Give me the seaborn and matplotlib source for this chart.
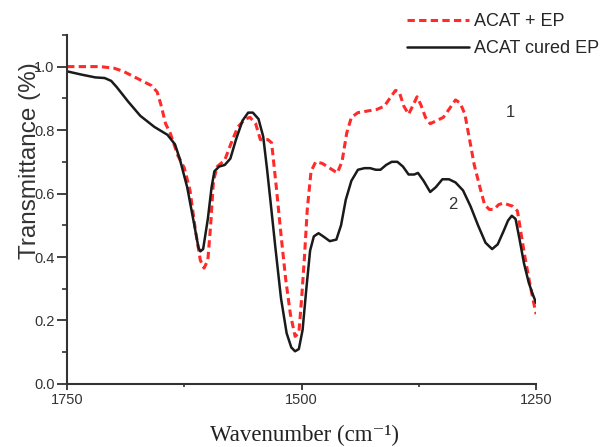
import matplotlib
matplotlib.use("Agg")
import matplotlib.pyplot as plt
import seaborn as sns
from matplotlib.ticker import MultipleLocator, FixedLocator

# ---- data ----
black_x = [1750, 1735, 1720, 1710, 1703, 1697, 1685, 1672, 1657, 1643, 1635, 1630, 1622, 1615, 1610,
           1608, 1605, 1600, 1596, 1593, 1588, 1582, 1576, 1570, 1563, 1557, 1552, 1546, 1541,
           1537, 1533, 1528, 1522, 1516, 1511, 1507, 1503, 1499, 1495, 1491, 1487, 1482, 1477,
           1470, 1463, 1458, 1453, 1447, 1440, 1433, 1427, 1421, 1416, 1410, 1404, 1398, 1392,
           1386, 1380, 1376, 1370, 1363, 1357, 1350, 1343, 1336, 1328, 1320, 1312, 1304, 1297,
           1291, 1285, 1280, 1276, 1272, 1268, 1263, 1258, 1254, 1250]
black_y = [0.985, 0.975, 0.966, 0.964, 0.955, 0.935, 0.89, 0.845, 0.81, 0.785, 0.755, 0.71, 0.62, 0.51, 0.43,
           0.418, 0.425, 0.52, 0.62, 0.67, 0.685, 0.69, 0.71, 0.77, 0.83, 0.855, 0.855, 0.835, 0.78,
           0.68, 0.57, 0.43, 0.27, 0.16, 0.115, 0.103, 0.11, 0.17, 0.30, 0.42, 0.465, 0.475, 0.465,
           0.45, 0.455, 0.50, 0.58, 0.64, 0.675, 0.68, 0.68, 0.675, 0.675, 0.69, 0.70, 0.70, 0.685,
           0.66, 0.66, 0.665, 0.64, 0.605, 0.62, 0.645, 0.645, 0.635, 0.61, 0.56, 0.50, 0.445, 0.425,
           0.44, 0.48, 0.515, 0.53, 0.52, 0.46, 0.38, 0.32, 0.285, 0.255]

red_x = [1750, 1735, 1715, 1700, 1690, 1680, 1670, 1660, 1654, 1650, 1645, 1640, 1632, 1625,
         1619, 1613, 1608, 1604, 1600, 1597, 1594, 1590, 1582, 1575, 1568, 1560, 1555, 1549,
         1544, 1536, 1532, 1527, 1522, 1517, 1512, 1507, 1503, 1500, 1497, 1494, 1490, 1485,
         1478, 1470, 1462, 1457, 1452, 1447, 1440, 1430, 1420, 1412, 1406, 1400, 1396, 1391,
         1386, 1381, 1377, 1373, 1368, 1363, 1356, 1349, 1343, 1336, 1331, 1326, 1321, 1316,
         1310, 1305, 1300, 1295, 1290, 1285, 1280, 1275, 1270, 1267, 1262, 1257, 1253, 1250]
red_y = [1.0, 1.0, 1.0, 0.995, 0.985, 0.97, 0.955, 0.94, 0.92, 0.88, 0.82, 0.79, 0.72, 0.68,
         0.61, 0.48, 0.39, 0.365, 0.39, 0.50, 0.64, 0.685, 0.705, 0.76, 0.81, 0.835, 0.84, 0.82,
         0.77, 0.77, 0.76, 0.62, 0.47, 0.33, 0.22, 0.15, 0.16, 0.27, 0.40, 0.55, 0.67, 0.70,
         0.695, 0.68, 0.665, 0.70, 0.79, 0.84, 0.855, 0.86, 0.865, 0.875, 0.90, 0.925, 0.92, 0.875,
         0.85, 0.88, 0.905, 0.88, 0.84, 0.82, 0.83, 0.84, 0.865, 0.895, 0.885, 0.85, 0.77, 0.69,
         0.62, 0.565, 0.55, 0.55, 0.565, 0.57, 0.565, 0.56, 0.545, 0.49, 0.40, 0.32, 0.26, 0.22]

series_labels = ["ACAT + EP", "ACAT cured EP"]
curve_tags = ["1", "2"]
xticks = [1750, 1500, 1250]
yticks = [0.0, 0.2, 0.4, 0.6, 0.8, 1.0]

sns.set_style("ticks")
plt.rcParams["font.family"] = ["Liberation Sans", "DejaVu Sans"]

fig = plt.figure(figsize=(6.1, 4.47), dpi=100)
ax = fig.add_axes([0.110, 0.141, 0.769, 0.781])

sns.lineplot(x=red_x, y=red_y, ax=ax, sort=False, estimator=None, color="#ff2a2a",
             linewidth=2.2, label=series_labels[0])
sns.lineplot(x=black_x, y=black_y, ax=ax, sort=False, estimator=None, color="#1a1a1a",
             linewidth=1.8, label=series_labels[1])
ax.lines[0].set_linestyle((0, (2.4, 1.4)))

ax.set_xlim(1750, 1250)
ax.set_ylim(0, 1.1)
ax.set_xticks(xticks)
ax.set_xticklabels([str(v) for v in xticks])
ax.xaxis.set_minor_locator(FixedLocator([1625, 1375]))
ax.set_yticks(yticks)
ax.set_yticklabels([f"{v:.1f}" for v in yticks])
ax.yaxis.set_minor_locator(MultipleLocator(0.1))
ax.tick_params(axis="both", which="major", direction="out", width=1.3,
               labelsize=10.5, color="#333333", labelcolor="#333333", pad=2)
ax.tick_params(axis="y", which="major", length=7)
ax.tick_params(axis="x", which="major", length=4.5)
ax.tick_params(axis="y", which="minor", direction="out", length=3.5, width=1.2, color="#333333")
ax.tick_params(axis="x", which="minor", direction="out", length=2.5, width=1.2, color="#333333")

for side in ["top", "right"]:
    ax.spines[side].set_visible(False)
for side in ["left", "bottom"]:
    ax.spines[side].set_linewidth(1.5)
    ax.spines[side].set_color("#333333")

ax.set_ylabel("Transmittance (%)", fontsize=17.5, color="#333333")
ax.yaxis.set_label_coords(-0.055, 0.64)
ax.set_xlabel("Wavenumber (cm\u207b\u00b9)", fontsize=16.5,
              family=["Liberation Serif", "DejaVu Serif"], color="#222222")
ax.xaxis.set_label_coords(0.507, -0.118)

ax.text(1277, 0.855, curve_tags[0], fontsize=12, color="#333333", ha="center", va="center")
ax.text(1339, 0.565, curve_tags[1], fontsize=12, color="#333333", ha="center", va="center")

ax.get_legend().remove()
handles, labels = ax.get_legend_handles_labels()
fig.legend(handles, labels, loc="upper right", bbox_to_anchor=(1.0, 0.995),
           frameon=False, fontsize=13, handlelength=3.4, handletextpad=0.3,
           labelspacing=0.55, borderaxespad=0.2)

fig.savefig("out.png", dpi=100)
